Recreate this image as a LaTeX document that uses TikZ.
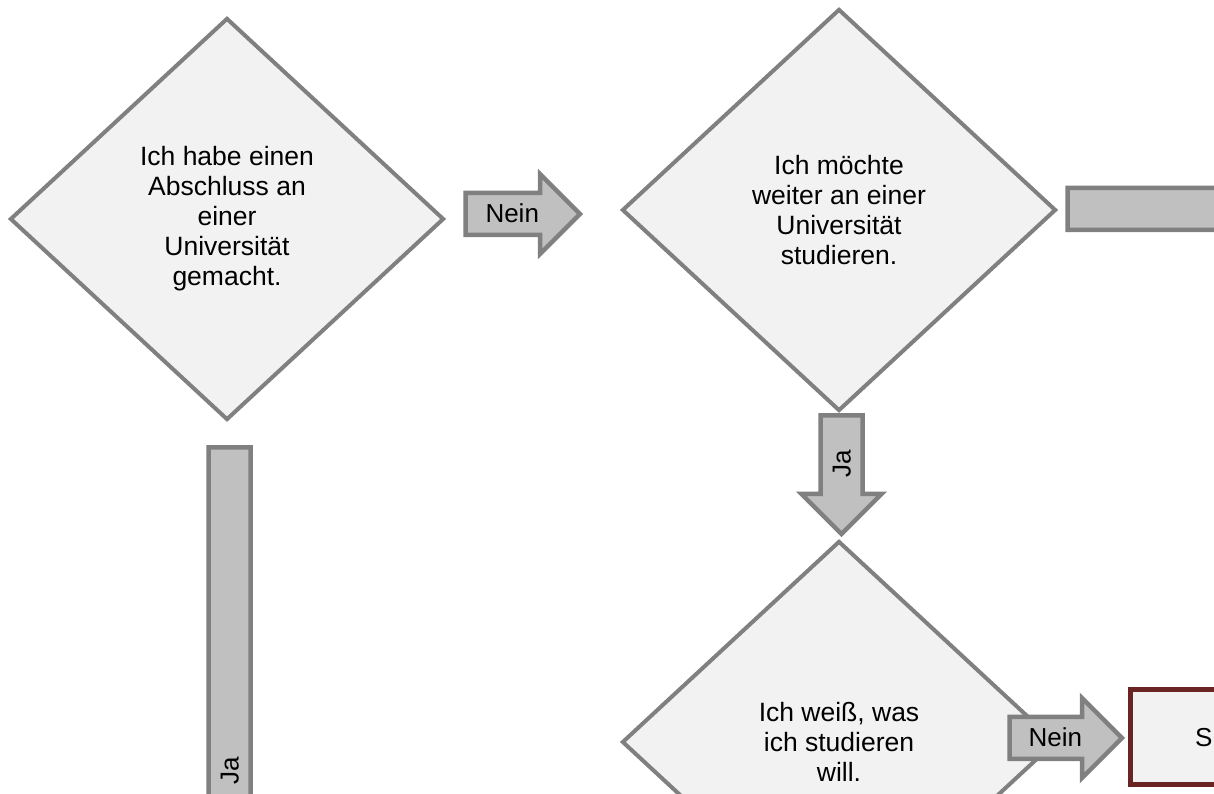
\documentclass[tikz,border=0pt]{standalone}
\usepackage{fontspec}
\setmainfont{Liberation Sans}
\usetikzlibrary{shapes.geometric,shapes.arrows,positioning}
\definecolor{diafill}{HTML}{F2F2F2}
\definecolor{dialine}{HTML}{808080}
\definecolor{arrowfill}{HTML}{C0C0C0}
\definecolor{boxline}{HTML}{6B2424}
\tikzstyle{question} = [
    diamond,
    draw=dialine,
    fill=diafill,
    line width=4pt,
    minimum width=434pt,
    minimum height=402pt,
    inner sep=0pt,
    align=center,
    font=\fontsize{26.5}{30}\selectfont
    ]
\tikzstyle{blockarrow} = [
    single arrow,
    draw=dialine,
    fill=arrowfill,
    line width=4.5pt,
    single arrow head extend=19pt,
    inner xsep=6pt,
    inner ysep=0pt,
    text height=27.75pt,
    text depth=9.75pt,
    outer sep=0pt,
    font=\fontsize{26}{30}\selectfont
    ]
\tikzstyle{answerbox} = [
    rectangle,
    draw=boxline,
    fill=diafill,
    line width=5pt,
    minimum height=95pt,
    inner xsep=65pt,
    text width=120pt,
    align=left,
    outer sep=0pt,
    font=\fontsize{26}{30}\selectfont
    ]

\begin{document}
\begin{tikzpicture}[x=1pt,y=1pt]
\useasboundingbox (0,0) rectangle (1214,794);
\clip (0,0) rectangle (1214,794);

% questions
\node[question] (abschluss) at (227,575)
    {Ich habe einen\\Abschluss an\\einer\\Universität\\gemacht.};
\node[question] (weiter) at (839,584)
    {Ich möchte\\weiter an einer\\Universität\\studieren.};
\node[question] (fach) at (839,52)
    {Ich weiß, was\\ich studieren\\will.};

% answers
\node[blockarrow, anchor=tail, minimum height=114.5pt] (nein1) at (465.5,580) {Nein};
\node[blockarrow, anchor=tail, minimum height=300pt] (nein2) at (1067.5,585) {};
\node[blockarrow, anchor=tail, minimum height=118.5pt, rotate=90,
      shape border rotate=180] (ja1) at (841.5,378.5) {Ja};
\node[blockarrow, anchor=tail, minimum height=668pt, rotate=90,
      shape border rotate=180] (ja2) at (229.5,346.5) {Ja};
\node[blockarrow, anchor=tail, minimum height=112.5pt] (nein3) at (1009.5,56) {Nein};

% result
\node[answerbox, anchor=north west] (studium) at (1130,104) {S};
\end{tikzpicture}
\end{document}
